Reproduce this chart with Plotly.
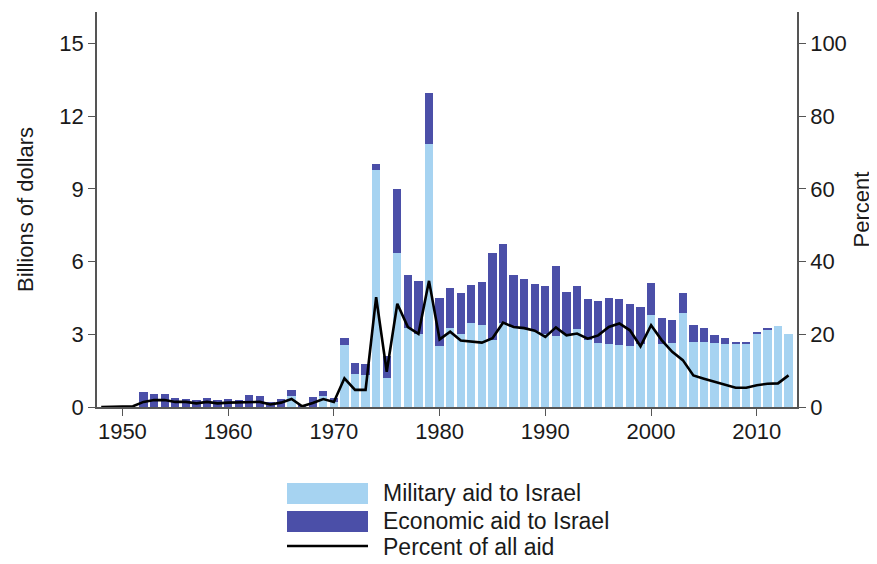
import plotly.graph_objects as go

years = list(range(1948, 2014))

military = [
    0, 0, 0, 0,                     # 1948-1951
    0, 0, 0, 0, 0, 0, 0, 0,         # 1952-1959
    0, 0, 0, 0, 0, 0, 0.45, 0.02,   # 1960-1967
    0, 0.45, 0.20,                  # 1968-1970
    2.55, 1.36, 1.32, 9.77, 1.20, 6.35, 3.25, 3.02, 10.85,   # 1971-1979
    2.50, 3.25, 3.00, 3.48, 3.39, 2.77, 3.46, 3.32, 3.25, 3.15,  # 1980-1989
    3.00, 2.92, 3.00, 3.20, 2.76, 2.65, 2.59, 2.55, 2.51, 2.62,  # 1990-1999
    3.79, 2.59, 2.65, 3.88, 2.69, 2.69, 2.65, 2.62, 2.62, 2.60,  # 2000-2009
    3.05, 3.20, 3.33, 3.03,                                      # 2010-2013
]

economic = [
    0, 0, 0, 0,
    0.63, 0.52, 0.52, 0.36, 0.34, 0.28, 0.39, 0.30,
    0.34, 0.30, 0.48, 0.44, 0.21, 0.34, 0.27, 0.03,
    0.40, 0.20, 0.16,
    0.28, 0.47, 0.46, 0.25, 0.90, 2.65, 2.20, 2.20, 2.10,
    2.00, 1.68, 1.72, 1.56, 1.76, 3.60, 3.28, 2.13, 2.03, 1.93,
    2.00, 2.91, 1.75, 1.79, 1.68, 1.73, 1.89, 1.89, 1.73, 1.51,
    1.33, 1.10, 0.96, 0.83, 0.69, 0.55, 0.31, 0.21, 0.07, 0.05,
    0.05, 0.04, 0.0, 0.0,
]

percent = [
    0, 0, 0, 0.2,
    1.4, 1.9, 1.9, 1.4, 1.4, 1.0, 1.4, 1.0,
    1.2, 1.2, 1.4, 1.4, 0.7, 1.2, 2.2, 0.2,
    1.1, 2.2, 1.4,
    7.9, 4.7, 4.7, 30.2, 9.7, 28.4, 22.0, 20.1, 34.7,
    18.6, 20.7, 18.3, 18.0, 17.7, 18.9, 23.2, 22.0, 21.7, 21.0,
    19.3, 21.9, 19.7, 20.2, 18.8, 19.7, 22.0, 23.0, 21.1, 16.7,
    22.5, 18.4, 15.2, 12.9, 8.7, 7.8, 6.9, 6.2, 5.3, 5.3,
    6.0, 6.4, 6.5, 8.7,
]

left_ticks = [0, 3, 6, 9, 12, 15]
right_ticks = [0, 20, 40, 60, 80, 100]
x_ticks = [1950, 1960, 1970, 1980, 1990, 2000, 2010]

legend_labels = ["Military aid to Israel", "Economic aid to Israel", "Percent of all aid"]

LIGHT = "#a6d3f1"
DARK = "#4b4fa8"
FONT = "Liberation Sans, Arial, Helvetica, sans-serif"
AXC = "#555555"
TXT = "#1a1a1a"

fig = go.Figure()
fig.add_trace(go.Bar(x=years, y=military, name=legend_labels[0], marker=dict(color=LIGHT, line=dict(width=0)),
                     width=0.78, showlegend=False))
fig.add_trace(go.Bar(x=years, y=economic, name=legend_labels[1], marker=dict(color=DARK, line=dict(width=0)),
                     width=0.78, showlegend=False))
fig.add_trace(go.Scatter(x=years, y=percent, name=legend_labels[2], mode="lines",
                         line=dict(color="black", width=2.6), yaxis="y2", showlegend=False))

# The page body has an 8px default margin, so the figure is shrunk by 8px
# and its margins are shifted to keep the plot area where the reference has it.
OFF = 8
ymax = 16.3
fig.update_layout(
    width=877 - OFF, height=564 - OFF,
    margin=dict(l=97 - OFF, r=80, t=12 - OFF, b=157),
    paper_bgcolor="white", plot_bgcolor="white",
    barmode="stack", bargap=0,
    font=dict(family=FONT, size=22, color=TXT),
    xaxis=dict(range=[1947.6, 2013.8], tickvals=x_ticks, ticks="outside", ticklen=7,
               tickcolor=AXC, tickwidth=1.3, showline=True, linecolor=AXC, linewidth=1.5,
               showgrid=False, zeroline=False, tickfont=dict(size=22), ticklabelstandoff=-3),
    yaxis=dict(range=[0, ymax], tickvals=left_ticks, ticks="outside", ticklen=7,
               tickcolor=AXC, tickwidth=1.3, showline=True, linecolor=AXC, linewidth=1.5,
               showgrid=False, zeroline=False, tickfont=dict(size=22),
               title=dict(text="Billions of dollars", font=dict(size=22), standoff=20)),
    yaxis2=dict(range=[0, ymax * 20 / 3], tickvals=right_ticks, overlaying="y", side="right",
                ticks="outside", ticklen=7, tickcolor=AXC, tickwidth=1.3,
                showline=True, linecolor=AXC, linewidth=1.5, showgrid=False, zeroline=False,
                tickfont=dict(size=22),
                title=dict(text="Percent", font=dict(size=22), standoff=8)),
)

# Manual legend below the plot (paper coordinates relative to the plot area)
def py(p):
    return (407 - p) / 395.0

def px(p):
    return (p - 97) / 700.0

x0, x1 = px(287), px(368)
fig.add_shape(type="rect", xref="paper", yref="paper", x0=x0, x1=x1, y0=py(504), y1=py(483),
              fillcolor=LIGHT, line=dict(width=0))
fig.add_shape(type="rect", xref="paper", yref="paper", x0=x0, x1=x1, y0=py(532), y1=py(511),
              fillcolor=DARK, line=dict(width=0))
fig.add_shape(type="line", xref="paper", yref="paper", x0=x0, x1=x1, y0=py(546), y1=py(546),
              line=dict(color="black", width=2.6))
for lab, yc in zip(legend_labels, [493, 521, 547]):
    fig.add_annotation(text=lab, xref="paper", yref="paper", x=px(381), y=py(yc),
                       xanchor="left", yanchor="middle", showarrow=False,
                       font=dict(size=23, family=FONT, color=TXT))

fig.write_html("out.html")
